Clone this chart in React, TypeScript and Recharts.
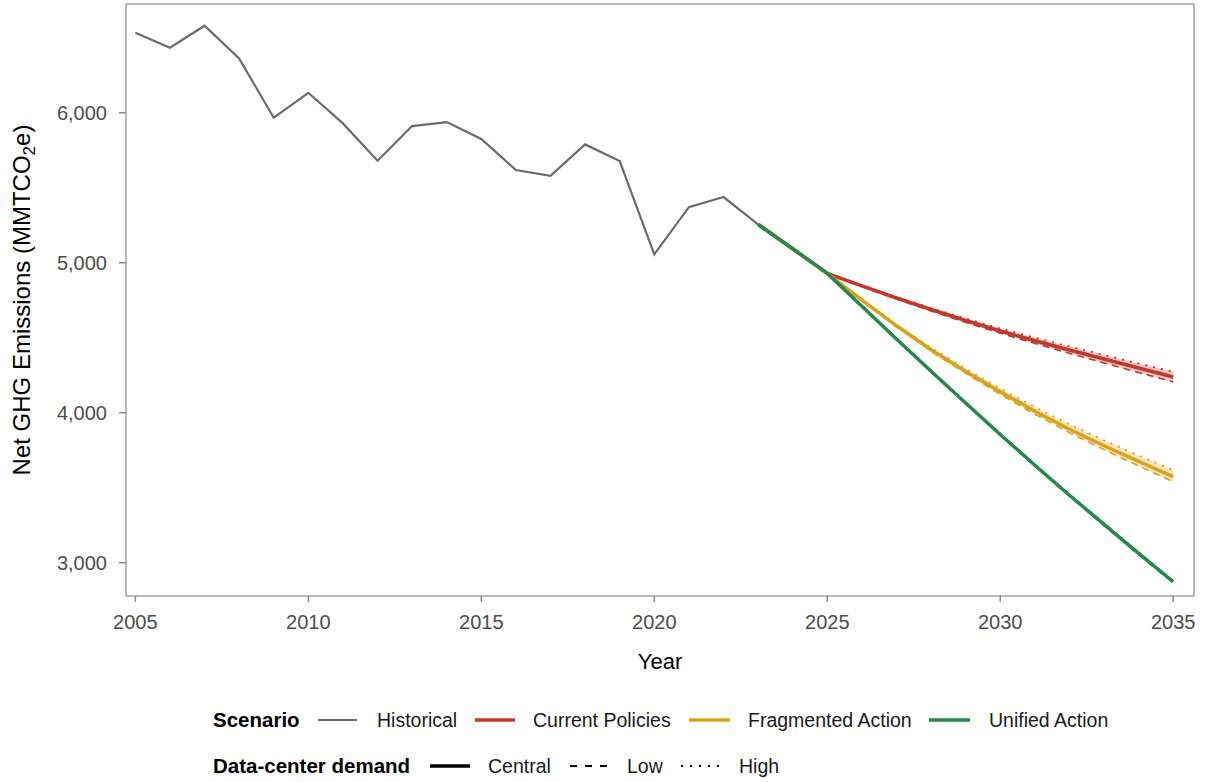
import { ComposedChart, Line, Area, XAxis, YAxis, ReferenceArea } from "recharts";

const FONT = '"Liberation Sans", Arial, Helvetica, sans-serif';

// historical inventory, 2005-2023
const histYears = [
  2005, 2006, 2007, 2008, 2009, 2010, 2011, 2012, 2013, 2014, 2015, 2016,
  2017, 2018, 2019, 2020, 2021, 2022, 2023,
];
const historical = [
  6533, 6433, 6580, 6362, 5967, 6133, 5929, 5680, 5911, 5938, 5825, 5618,
  5580, 5789, 5678, 5056, 5371, 5438, 5256,
];

// scenario projections, 2023-2035 (central / low / high data-center demand)
const projYears = [
  2023, 2024, 2025, 2026, 2027, 2028, 2029, 2030, 2031, 2032, 2033, 2034, 2035,
];
const currentCentral = [5256, 5093, 4929, 4845, 4765, 4688, 4615, 4545, 4480, 4418, 4358, 4298, 4238];
const currentLow = [5256, 5093, 4929, 4841, 4758, 4678, 4602, 4530, 4462, 4396, 4332, 4268, 4205];
const currentHigh = [5256, 5093, 4929, 4849, 4772, 4698, 4628, 4562, 4500, 4442, 4385, 4328, 4273];

const fragCentral = [5256, 5093, 4929, 4750, 4580, 4420, 4275, 4140, 4010, 3890, 3780, 3675, 3573];
const fragLow = [5256, 5093, 4929, 4747, 4573, 4410, 4262, 4123, 3990, 3867, 3754, 3645, 3540];
const fragHigh = [5256, 5093, 4929, 4755, 4589, 4434, 4293, 4163, 4037, 3922, 3816, 3715, 3618];

const unifiedCentral = [5256, 5093, 4929, 4710, 4492, 4277, 4065, 3855, 3650, 3450, 3255, 3062, 2873];
const unifiedLow = [5256, 5093, 4929, 4709, 4490, 4274, 4061, 3850, 3644, 3443, 3247, 3053, 2865];
const unifiedHigh = [5256, 5093, 4929, 4711, 4494, 4280, 4069, 3860, 3656, 3457, 3263, 3071, 2881];

const xTicks = [2005, 2010, 2015, 2020, 2025, 2030, 2035];
const yTicks = [3000, 4000, 5000, 6000];

const GREY = "#6b6b6b";
const RED = "#c2392c";
const GOLD = "#d9a21b";
const GREEN = "#25884c";

const allYears = Array.from(new Set([...histYears, ...projYears])).sort((a, b) => a - b);

const rows = allYears.map((year) => {
  const h = histYears.indexOf(year);
  const p = projYears.indexOf(year);
  const has = p >= 0;
  return {
    year,
    hist: h >= 0 ? historical[h] : undefined,
    cp: has ? currentCentral[p] : undefined,
    cpLo: has ? currentLow[p] : undefined,
    cpHi: has ? currentHigh[p] : undefined,
    cpBand: has ? [currentLow[p], currentHigh[p]] : undefined,
    fa: has ? fragCentral[p] : undefined,
    faLo: has ? fragLow[p] : undefined,
    faHi: has ? fragHigh[p] : undefined,
    faBand: has ? [fragLow[p], fragHigh[p]] : undefined,
    ua: has ? unifiedCentral[p] : undefined,
    uaLo: has ? unifiedLow[p] : undefined,
    uaHi: has ? unifiedHigh[p] : undefined,
    uaBand: has ? [unifiedLow[p], unifiedHigh[p]] : undefined,
  };
});

const scenarios = [
  { key: "cp", color: RED },
  { key: "fa", color: GOLD },
  { key: "ua", color: GREEN },
];

const X_DOMAIN: [number, number] = [2004.73, 2035.6];
const Y_DOMAIN: [number, number] = [2778, 6725];

function Legend() {
  const row1 = 720;
  const row2 = 766;
  const txt = { fontFamily: FONT, fontSize: 19.5, fill: "#1a1a1a" } as const;
  const bold = { fontFamily: FONT, fontSize: 20.5, fontWeight: 700, fill: "#000" } as const;
  return (
    <g>
      <text x={213} y={row1} dy="0.35em" {...bold}>Scenario</text>
      <line x1={318} x2={357} y1={row1} y2={row1} stroke={GREY} strokeWidth={2} />
      <text x={377} y={row1} dy="0.35em" {...txt}>Historical</text>
      <line x1={475} x2={515} y1={row1} y2={row1} stroke={RED} strokeWidth={3.5} />
      <text x={533} y={row1} dy="0.35em" {...txt}>Current Policies</text>
      <line x1={689} x2={730} y1={row1} y2={row1} stroke={GOLD} strokeWidth={3.5} />
      <text x={748} y={row1} dy="0.35em" {...txt}>Fragmented Action</text>
      <line x1={929} x2={970} y1={row1} y2={row1} stroke={GREEN} strokeWidth={3.5} />
      <text x={989} y={row1} dy="0.35em" {...txt}>Unified Action</text>

      <text x={213} y={row2} dy="0.35em" {...bold}>Data-center demand</text>
      <line x1={430} x2={470} y1={row2} y2={row2} stroke="#000" strokeWidth={3.5} />
      <text x={488} y={row2} dy="0.35em" {...txt}>Central</text>
      <line x1={570} x2={608} y1={row2} y2={row2} stroke="#000" strokeWidth={2} strokeDasharray="7 8" />
      <text x={627} y={row2} dy="0.35em" {...txt}>Low</text>
      <line x1={681} x2={719} y1={row2} y2={row2} stroke="#000" strokeWidth={2} strokeDasharray="2 7" />
      <text x={739} y={row2} dy="0.35em" {...txt}>High</text>
    </g>
  );
}

export default function App() {
  return (
    <div style={{ position: "absolute", left: 0, top: 0, width: 1206, height: 782, background: "#fff" }}>
      <ComposedChart
        width={1206}
        height={782}
        data={rows}
        margin={{ top: 4, right: 12, left: 0, bottom: 106 }}
        style={{ fontFamily: FONT }}
      >
        <XAxis
          type="number"
          dataKey="year"
          domain={X_DOMAIN}
          allowDataOverflow
          ticks={xTicks}
          height={80}
          axisLine={false}
          tickSize={6}
          tickMargin={13}
          tickLine={{ stroke: "#8a8a8a", strokeWidth: 1.5 }}
          tick={{ fontSize: 20, fill: "#4d4d4d", fontFamily: FONT }}
        />
        <YAxis
          type="number"
          domain={Y_DOMAIN}
          allowDataOverflow
          ticks={yTicks}
          width={126}
          axisLine={false}
          tickSize={7}
          tickMargin={12}
          tickLine={{ stroke: "#8a8a8a", strokeWidth: 1.5 }}
          tick={{ fontSize: 20, fill: "#4d4d4d", fontFamily: FONT }}
          tickFormatter={(v: number) => v.toLocaleString("en-US")}
        />
        {/* panel border */}
        <ReferenceArea
          x1={X_DOMAIN[0]}
          x2={X_DOMAIN[1]}
          y1={Y_DOMAIN[0]}
          y2={Y_DOMAIN[1]}
          fill="none"
          stroke="#a3a3a3"
          strokeWidth={1.5}
          ifOverflow="visible"
        />

        <Line
          dataKey="hist"
          stroke={GREY}
          strokeWidth={2.2}
          dot={false}
          isAnimationActive={false}
        />

        {scenarios.map((s) => [
          <Area
            key={s.key + "band"}
            dataKey={s.key + "Band"}
            stroke="none"
            fill={s.color}
            fillOpacity={0.28}
            isAnimationActive={false}
          />,
          <Line
            key={s.key + "lo"}
            dataKey={s.key + "Lo"}
            stroke={s.color}
            strokeWidth={1.6}
            strokeDasharray="7 5"
            dot={false}
            isAnimationActive={false}
          />,
          <Line
            key={s.key + "hi"}
            dataKey={s.key + "Hi"}
            stroke={s.color}
            strokeWidth={1.8}
            strokeDasharray="2 6"
            dot={false}
            isAnimationActive={false}
          />,
          <Line
            key={s.key + "c"}
            dataKey={s.key}
            stroke={s.color}
            strokeWidth={3.5}
            dot={false}
            isAnimationActive={false}
          />,
        ])}
      </ComposedChart>

      <svg
        width={1206}
        height={782}
        style={{ position: "absolute", left: 0, top: 0, pointerEvents: "none" }}
      >
        <text
          x={29.5}
          y={300}
          transform="rotate(-90 29.5 300)"
          textAnchor="middle"
          fontFamily={FONT}
          fontSize={24}
          fill="#000"
        >
          Net GHG Emissions (MMTCO
          <tspan fontSize={17} dy={5}>2</tspan>
          <tspan dy={-5}>e)</tspan>
        </text>
        <text x={660} y={669} textAnchor="middle" fontFamily={FONT} fontSize={22} fill="#000">
          Year
        </text>
        <Legend />
      </svg>
    </div>
  );
}
